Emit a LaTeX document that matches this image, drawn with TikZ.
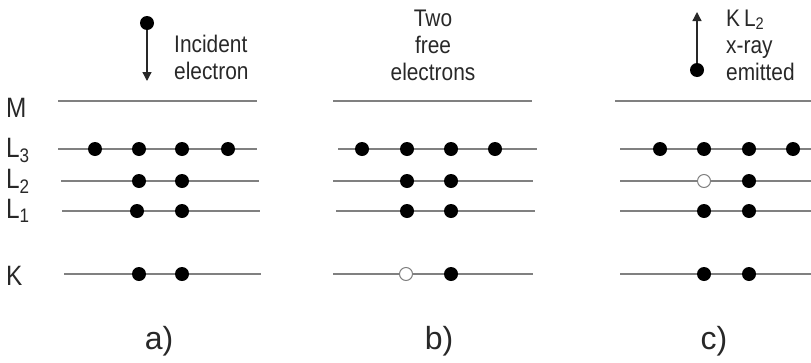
\documentclass[tikz,border=0pt]{standalone}
\usepackage{fontspec}
\setmainfont{Liberation Sans}[FakeStretch=0.87]
\newfontfamily\tagfont{Liberation Sans}
\usetikzlibrary{arrows.meta}
\definecolor{shell}{RGB}{128,128,128}
\definecolor{ink}{RGB}{40,40,40}
\begin{document}
\begin{tikzpicture}[x=1pt,y=-1pt,
  shellline/.style={draw=shell,line width=1.8pt},
  edot/.style={circle,fill=black,inner sep=0pt,minimum size=14pt},
  hole/.style={circle,draw=shell,fill=white,line width=1pt,inner sep=0pt,minimum size=13pt},
  lvl/.style={anchor=base west,text=ink,font=\fontsize{28}{28}\selectfont,inner sep=0pt},
  note/.style={text=ink,font=\fontsize{24}{27}\selectfont,align=center,inner sep=0pt},
  tag/.style={text=ink,font=\tagfont\fontsize{32}{32}\selectfont,inner sep=0pt},
  move/.style={draw=ink,line width=1.3pt,-{Triangle[length=9pt,width=9pt]}}]
\useasboundingbox (0,0) rectangle (811,362);
% level labels
\node[lvl] (lM) at (6,117) {M};
\node[lvl] (lL3) at (6,157) {L\textsubscript{3}};
\node[lvl] (lL2) at (6,188) {L\textsubscript{2}};
\node[lvl] (lL1) at (6,218) {L\textsubscript{1}};
\node[lvl] (lK) at (6,285) {K};
% ---------- panel a
\coordinate (aM1) at (58,101); \coordinate (aM2) at (257,101);
\coordinate (a31) at (58,149); \coordinate (a32) at (257,149);
\coordinate (a21) at (61,181); \coordinate (a22) at (259,181);
\coordinate (a11) at (62,211); \coordinate (a12) at (260,211);
\coordinate (aK1) at (64,274); \coordinate (aK2) at (261,274);
\draw[shellline] (aM1) -- (aM2);
\draw[shellline] (a31) -- (a32);
\draw[shellline] (a21) -- (a22);
\draw[shellline] (a11) -- (a12);
\draw[shellline] (aK1) -- (aK2);
\node[edot] (a3a) at (95,149) {}; \node[edot] (a3b) at (139,149) {};
\node[edot] (a3c) at (182,149) {}; \node[edot] (a3d) at (228,149) {};
\node[edot] (a2a) at (139,181) {}; \node[edot] (a2b) at (182,181) {};
\node[edot] (a1a) at (137,211) {}; \node[edot] (a1b) at (182,211) {};
\node[edot] (aKa) at (139,274) {}; \node[edot] (aKb) at (182,274) {};
\node[edot] (ain) at (147,23) {};
\coordinate (ainend) at (147,81);
\draw[move] (ain) -- (ainend);
\node[note,align=left,anchor=west] (atxt) at (174,57) {Incident\\electron};
\node[tag] (atag) at (159,341) {a)};
% ---------- panel b
\coordinate (bM1) at (333,101); \coordinate (bM2) at (532,101);
\coordinate (b31) at (338,149); \coordinate (b32) at (537,149);
\coordinate (b21) at (333,181); \coordinate (b22) at (533,181);
\coordinate (b11) at (336,211); \coordinate (b12) at (535,211);
\coordinate (bK1) at (333,274); \coordinate (bK2) at (533,274);
\draw[shellline] (bM1) -- (bM2);
\draw[shellline] (b31) -- (b32);
\draw[shellline] (b21) -- (b22);
\draw[shellline] (b11) -- (b12);
\draw[shellline] (bK1) -- (bK2);
\node[edot] (b3a) at (362,149) {}; \node[edot] (b3b) at (407,149) {};
\node[edot] (b3c) at (451,149) {}; \node[edot] (b3d) at (495,149) {};
\node[edot] (b2a) at (407,181) {}; \node[edot] (b2b) at (451,181) {};
\node[edot] (b1a) at (407,211) {}; \node[edot] (b1b) at (451,211) {};
\node[hole] (bKa) at (406,274) {}; \node[edot] (bKb) at (451,274) {};
\node[note] (btxt) at (433,45) {Two\\free\\electrons};
\node[tag] (btag) at (439,341) {b)};
% ---------- panel c
\coordinate (cM1) at (615,101); \coordinate (cM2) at (811,101);
\coordinate (c31) at (620,149); \coordinate (c32) at (811,149);
\coordinate (c21) at (620,181); \coordinate (c22) at (811,181);
\coordinate (c11) at (620,211); \coordinate (c12) at (811,211);
\coordinate (cK1) at (620,274); \coordinate (cK2) at (811,274);
\draw[shellline] (cM1) -- (cM2);
\draw[shellline] (c31) -- (c32);
\draw[shellline] (c21) -- (c22);
\draw[shellline] (c11) -- (c12);
\draw[shellline] (cK1) -- (cK2);
\node[edot] (c3a) at (660,149) {}; \node[edot] (c3b) at (704,149) {};
\node[edot] (c3c) at (749,149) {}; \node[edot] (c3d) at (793,149) {};
\node[hole] (c2a) at (704,181) {}; \node[edot] (c2b) at (749,181) {};
\node[edot] (c1a) at (704,211) {}; \node[edot] (c1b) at (749,211) {};
\node[edot] (cKa) at (704,274) {}; \node[edot] (cKb) at (749,274) {};
\node[edot] (cout) at (697,70) {};
\coordinate (coutend) at (697,12);
\draw[move] (cout) -- (coutend);
\node[note,align=left,anchor=west] (ctxt) at (726,45) {K\,L\textsubscript{2}\\x-ray\\emitted};
\node[tag] (ctag) at (714,341) {c)};
\end{tikzpicture}
\end{document}
